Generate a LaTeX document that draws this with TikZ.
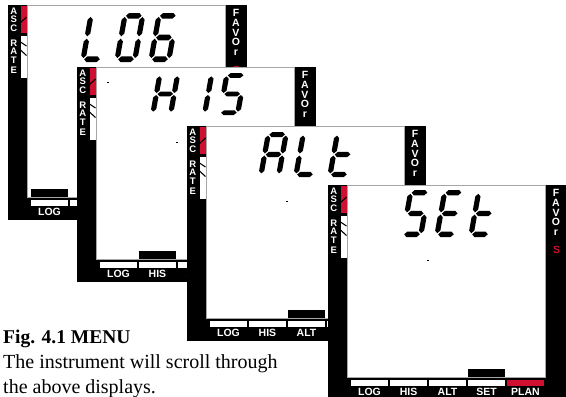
\documentclass[tikz,border=0pt]{standalone}
\usepackage{fontspec}
\setmainfont{Liberation Serif}
\setsansfont{Liberation Sans}
\definecolor{lcdred}{RGB}{208,16,48}
\tikzset{
  lcdlet/.style={text=white, font=\sffamily\bfseries\fontsize{9.5}{10}\selectfont, inner sep=0pt},
  favlet/.style={text=white, font=\sffamily\bfseries\fontsize{10.5}{11}\selectfont, inner sep=0pt},
  tablab/.style={text=white, font=\sffamily\bfseries\fontsize{10.5}{11}\selectfont, inner sep=0pt},
  captxt/.style={anchor=base west, inner sep=0pt, font=\fontsize{20}{24}\selectfont},
  slash/.style={black, line width=1.1pt}
}
\newcommand\lcdhseg[3]{\fill (#1,#3) -- (#1+2.6,#3+2.6) -- (#2-2.6,#3+2.6) -- (#2,#3) -- (#2-2.6,#3-2.6) -- (#1+2.6,#3-2.6) -- cycle;}
\newcommand\lcdvseg[3]{\fill (#1,#2) -- (#1+2.6,#2+2.6) -- (#1+2.6,#3-2.6) -- (#1,#3) -- (#1-2.6,#3-2.6) -- (#1-2.6,#2+2.6) -- cycle;}
\newcommand\lcdsega{\lcdhseg{3.7}{19.3}{43.4}}
\newcommand\lcdsegg{\lcdhseg{3.7}{19.3}{23}}
\newcommand\lcdsegd{\lcdhseg{3.7}{19.3}{2.6}}
\newcommand\lcdsegf{\lcdvseg{2.6}{24.1}{42.3}}
\newcommand\lcdsege{\lcdvseg{2.6}{3.7}{21.9}}
\newcommand\lcdsegb{\lcdvseg{20.4}{24.1}{42.3}}
\newcommand\lcdsegc{\lcdvseg{20.4}{3.7}{21.9}}
% #1 x, #2 baseline y (down), #3 height, #4 segments
\newcommand\lcdchar[4]{%
  \begin{scope}[shift={(#1,-#2)}, xslant=0.18, yscale=#3/46]
    \foreach \s in {#4} {\csname lcdseg\s\endcsname}
  \end{scope}}
% #1 name, #2 x, #3 y (down), #4 selected tab, #5 plan colour
\newcommand\lcdscreen[5]{%
  \begin{scope}[shift={(#2,-#3)}]
    \fill[black] (0,0) rectangle (239,-215);
    \filldraw[fill=white, draw=gray!70, line width=0.5pt] (19,-0.6) rectangle (217,-192);
    % ASC bar
    \fill[lcdred] (12.5,-1) rectangle (18.5,-27.5);
    \draw[slash] (12.5,-17.5) -- (18.5,-12);
    \fill[white] (12.5,-31) rectangle (18.5,-73);
    \draw[slash] (12.5,-37) -- (18.5,-41);
    \draw[slash] (12.5,-45) -- (18.5,-50.5);
    \foreach \l/\yy/\k in {A/6.5/1,S/14.5/2,C/23.5/3,R/38/4,A/46.5/5,T/55.5/6,E/65.5/7}
      {\node[lcdlet] (#1-asc\k) at (5.8,-\yy) {\l};}
    \foreach \l/\yy/\k in {F/7.5/1,A/17.5/2,V/27.5/3,O/37/4,r/48/5}
      {\node[favlet] (#1-fav\k) at (228,-\yy) {\l};}
    \node[favlet, text=lcdred] (#1-favs) at (228.5,-65) {S};
    % tabs
    \foreach \i/\lab in {1/LOG,2/HIS,3/ALT,4/SET,5/PLAN} {
      \pgfmathsetmacro\xa{23+39*(\i-1)}
      \fill[white] (\xa,-194.5) rectangle ++(37,-6);
      \node[tablab] (#1-tab\i) at (\xa+18.5,-206.5) {\lab};
    }
    \fill[#5] (179,-194.5) rectangle ++(37,-6);
    \pgfmathsetmacro\xs{23+39*(#4-1)}
    \fill[black] (\xs,-184) rectangle ++(37,-8);
    \fill[black] (98.5,-74.5) rectangle ++(2,-1.2);
  \end{scope}}

\begin{document}
\begin{tikzpicture}[x=1pt, y=1pt]
  \useasboundingbox (0,0) rectangle (566,-397);
  \clip (0,0) rectangle (566,-397);
  \fill[white] (0,0) rectangle (566,-397);

  % screen 1: LOG
  \lcdscreen{s1}{8}{5}{1}{white}
  \lcdchar{80}{62}{49}{f,e,d}
  \lcdchar{114}{62}{49}{a,b,c,d,e,f}
  \lcdchar{148}{62}{49}{a,f,g,e,d,c}

  % screen 2: HIS
  \lcdscreen{s2}{77}{67}{2}{white}
  \fill[black] (107,-81.5) rectangle ++(2,-1.2);
  \lcdchar{150}{115}{42}{f,b,g,e,c}
  \lcdchar{184}{115}{42}{b,c}
  \lcdchar{217}{115}{42}{a,f,g,c,d}

  % screen 3: ALt
  \lcdscreen{s3}{187}{126}{3}{white}
  \lcdchar{258}{177}{45}{a,b,c,e,f,g}
  \lcdchar{293}{177}{45}{f,e,d}
  \lcdchar{327}{177}{45}{f,e,d,g}

  % screen 4: SEt
  \lcdscreen{s4}{328}{185}{4}{lcdred}
  \lcdchar{400}{237}{47}{a,f,g,c,d}
  \lcdchar{434}{237}{47}{a,f,g,e,d}
  \lcdchar{468}{237}{47}{f,e,d,g}

  % caption
  \node[captxt, font=\bfseries\fontsize{19.5}{24}\selectfont] (figtitle) at (3,-343) {Fig. 4.1 MENU};
  \node[captxt] (capa) at (3,-368) {The instrument will scroll through};
  \node[captxt] (capb) at (3,-393) {the above displays.};
\end{tikzpicture}
\end{document}
